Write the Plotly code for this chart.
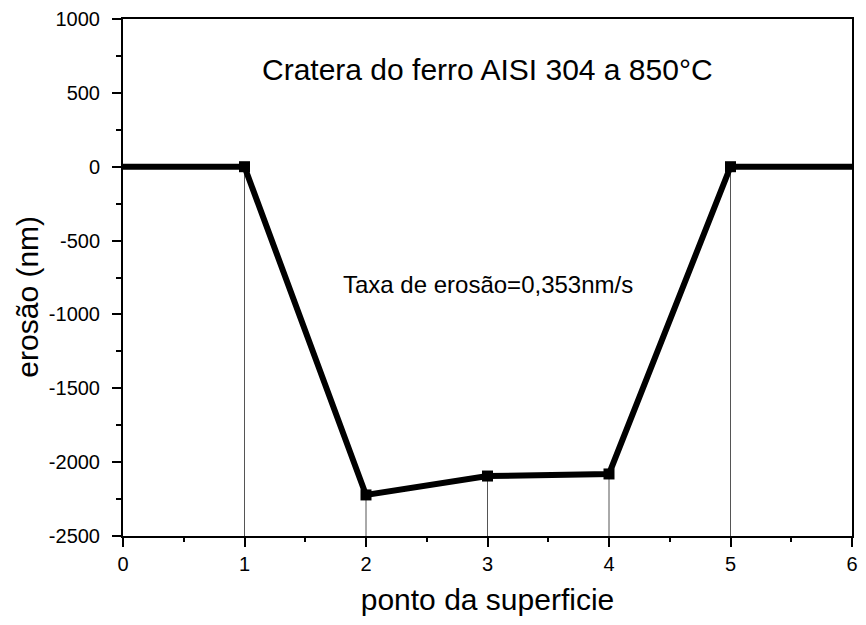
import plotly.graph_objects as go

# Data
ponto = [0, 1, 2, 3, 4, 5, 6]
erosao = [0, 0, -2222, -2094, -2080, 0, 0]
marcado = [False, True, True, True, True, True, False]

titulo = "Cratera do ferro AISI 304 a 850°C"
taxa = "Taxa de erosão=0,353nm/s"
x_label = "ponto da superficie"
y_label = "erosão (nm)"

y_ticks = [-2500, -2000, -1500, -1000, -500, 0, 500, 1000]
y_ticktext = [str(v) for v in y_ticks]  # plain hyphen minus
x_ticks = [0, 1, 2, 3, 4, 5, 6]

y_min, y_max = -2500, 1000
x_min, x_max = 0, 6

FONT = "Liberation Sans, Arial, sans-serif"

# drop lines from each marked point to the bottom axis
dx, dy = [], []
for xi, yi, m in zip(ponto, erosao, marcado):
    if m:
        dx += [xi, xi, None]
        dy += [yi, y_min, None]

fig = go.Figure()
fig.add_trace(go.Scatter(x=dx, y=dy, mode="lines",
                         line=dict(color="#555555", width=1),
                         hoverinfo="skip", showlegend=False))
fig.add_trace(go.Scatter(x=ponto, y=erosao, mode="lines+markers",
                         line=dict(color="black", width=6),
                         marker=dict(symbol="square", color="black", opacity=1,
                                     line=dict(width=0),
                                     size=[11 if m else 0 for m in marcado]),
                         showlegend=False))

fig.add_annotation(x=3, y=660, text=titulo, showarrow=False,
                   font=dict(family=FONT, size=30, color="black"))
fig.add_annotation(x=3, y=-800, text=taxa, showarrow=False,
                   font=dict(family=FONT, size=24, color="black"))
# y-axis title (placed as in the reference, slightly below the axis centre)
fig.add_annotation(xref="paper", yref="paper", x=-0.131, y=0.462,
                   text=y_label, textangle=-90, showarrow=False,
                   xanchor="center", yanchor="middle",
                   font=dict(family=FONT, size=30, color="black"))

axis_common = dict(showline=True, linecolor="black", linewidth=2, mirror=True,
                   ticks="outside", ticklen=9, tickwidth=1.5, tickcolor="black",
                   showgrid=False, zeroline=False,
                   tickfont=dict(family=FONT, size=20, color="black"))

fig.update_xaxes(range=[x_min, x_max], tickmode="array", tickvals=x_ticks,
                 minor=dict(ticks="outside", ticklen=4, dtick=0.5, tickwidth=1.5,
                            tickcolor="black", showgrid=False),
                 title=dict(text=x_label, font=dict(family=FONT, size=30, color="black"),
                            standoff=15),
                 **axis_common)
fig.update_yaxes(range=[y_min, y_max], tickmode="array", tickvals=y_ticks,
                 ticktext=y_ticktext, ticklabelstandoff=8,
                 minor=dict(ticks="outside", ticklen=5, dtick=250, tickwidth=1.5,
                            tickcolor="black", showgrid=False),
                 **axis_common)

fig.update_layout(width=866, height=625, margin=dict(l=123, r=8, t=19, b=89),
                  plot_bgcolor="white", paper_bgcolor="white",
                  font=dict(family=FONT))

fig.write_html("out.html")
